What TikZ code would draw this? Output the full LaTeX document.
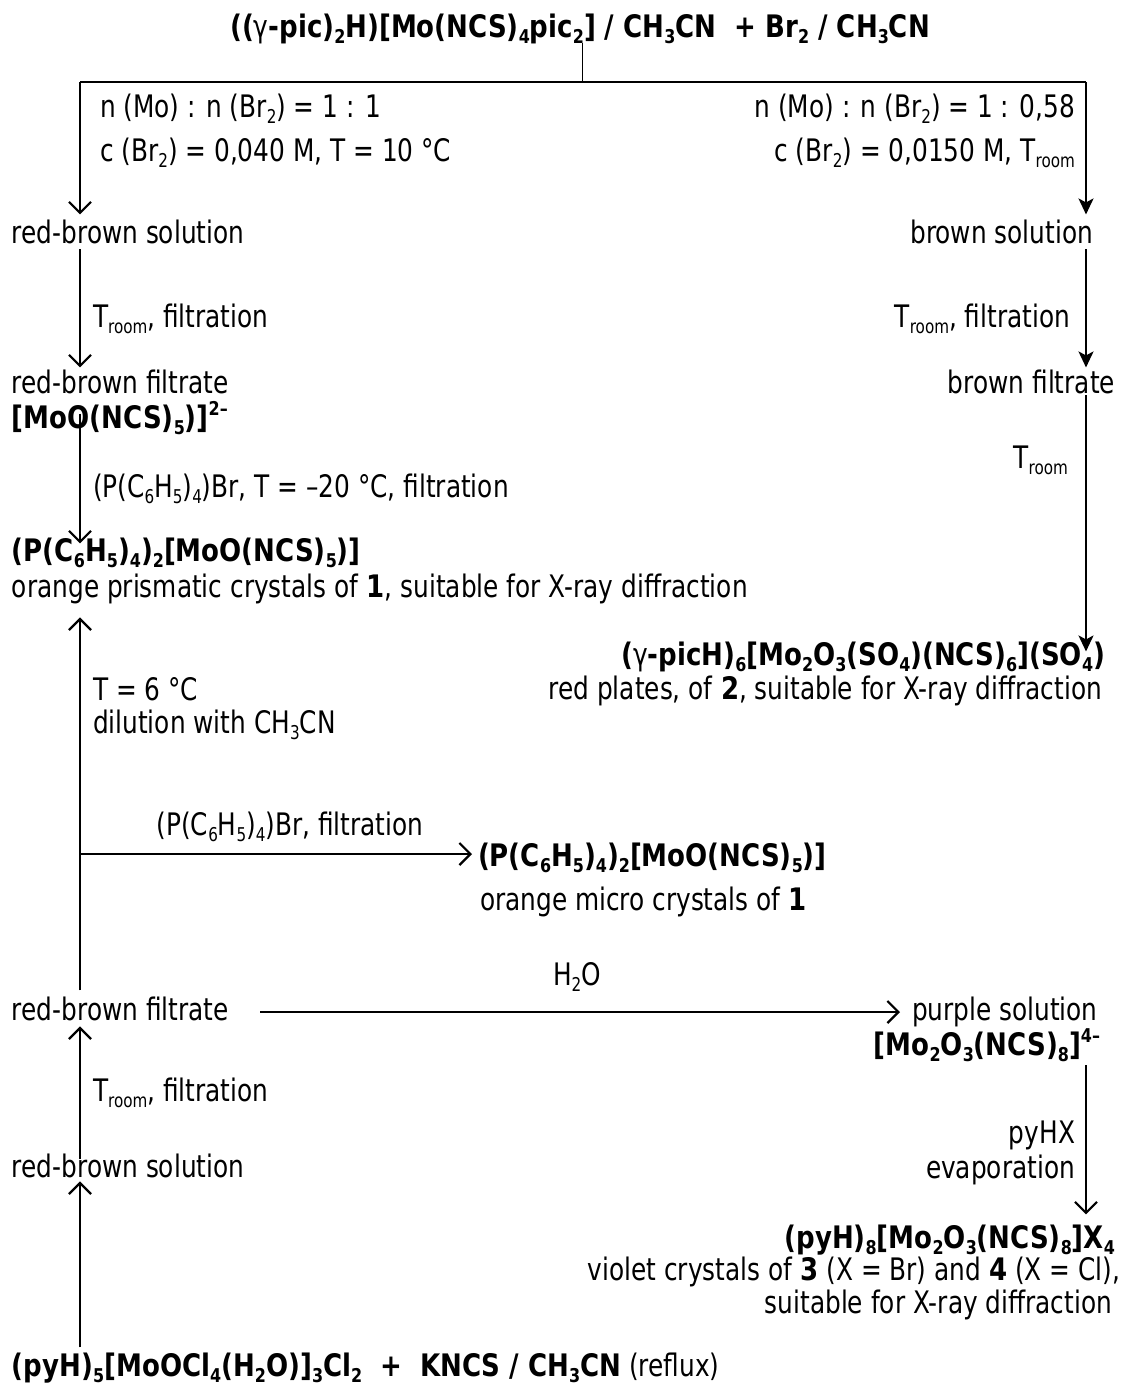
\documentclass[tikz,border=0pt]{standalone}
\usepackage{fontspec}
\setmainfont{DejaVu Sans}[FakeStretch=0.80,BoldFeatures={FakeStretch=0.84}]
\usetikzlibrary{arrows.meta}
\newcommand\sbs[1]{\raisebox{-0.2em}{\fontsize{19}{19}\selectfont #1}}
\newcommand\sps[1]{\raisebox{0.4em}{\fontsize{19}{19}\selectfont #1}}
\tikzset{
  txt/.style={inner sep=0pt, outer sep=0pt, font=\fontsize{31}{36}\selectfont},
  bl/.style={txt, anchor=base west},
  br/.style={txt, anchor=base east},
  bc/.style={txt, anchor=base},
  bld/.style={font=\fontsize{31}{36}\selectfont\bfseries},
  barb/.style={line width=2.2pt, -{Straight Barb[length=11pt,width=22pt,line width=2.2pt]}},
  filled/.style={line width=2.2pt, -{Stealth[length=16pt,width=15pt,inset=4pt]}},
  thin/.style={line width=1pt},
}
\begin{document}
\begin{tikzpicture}[x=1pt,y=-1pt]
\useasboundingbox (0,0) rectangle (1123,1387);
% column coordinates
\coordinate (cl) at (80,0);
\coordinate (cr) at (1086,0);
\coordinate (split) at (582,82);
% title
\node[bc,bld] (title) at (580,37) {(({\mdseries γ}-pic)\sbs{2}H)[Mo(NCS)\sbs{4}pic\sbs{2}] / CH\sbs{3}CN \ + Br\sbs{2} / CH\sbs{3}CN};
% top conditions
\node[bl] (cL1) at (100,117) {n (Mo) : n (Br\sbs{2}) = 1 : 1};
\node[bl] (cL2) at (100,161) {c (Br\sbs{2}) = 0,040 M, T = 10 °C};
\node[br] (cR1) at (1075,117) {n (Mo) : n (Br\sbs{2}) = 1 : 0,58};
\node[br] (cR2) at (1075,161) {c (Br\sbs{2}) = 0,0150 M, T\sbs{room}};
% left branch top
\node[bl] (rbs1) at (12,243) {red-brown solution};
\node[bl] (lab1) at (93,327) {T\sbs{room}, filtration};
\node[bl] (rbf1) at (12,393) {red-brown filtrate};
\node[bl,bld] (mo1) at (12,428) {[MoO(NCS)\sbs{5})]\sps{2–}};
\node[bl] (lab2) at (93,497) {(P(C\sbs{6}H\sbs{5})\sbs{4})Br, T = –20 °C, filtration};
\node[bl,bld] (p1) at (12,561) {(P(C\sbs{6}H\sbs{5})\sbs{4})\sbs{2}[MoO(NCS)\sbs{5})]};
\node[bl] (o1) at (12,597) {orange prismatic crystals of \textbf{1}, suitable for X-ray diffraction};
% right branch top
\node[br] (bs) at (1093,243) {brown solution};
\node[br] (lab3) at (1070,327) {T\sbs{room}, filtration};
\node[br] (bf) at (1115,393) {brown filtrate};
\node[br] (lab4) at (1068,468) {T\sbs{room}};
\node[br,bld] (g) at (1105,665) {({\mdseries γ}-picH)\sbs{6}[Mo\sbs{2}O\sbs{3}(SO\sbs{4})(NCS)\sbs{6}](SO\sbs{4})};
\node[br] (rp) at (1102,699) {red plates, of \textbf{2}, suitable for X-ray diffraction};
% middle left
\node[bl] (lab5) at (93,700) {T = 6 °C};
\node[bl] (lab6) at (93,733) {dilution with CH\sbs{3}CN};
\node[bc] (lab7) at (290,835) {(P(C\sbs{6}H\sbs{5})\sbs{4})Br, filtration};
\node[bl,bld] (p2) at (478,866) {(P(C\sbs{6}H\sbs{5})\sbs{4})\sbs{2}[MoO(NCS)\sbs{5})]};
\node[bl] (o2) at (480,910) {orange micro crystals of \textbf{1}};
\coordinate (br1) at (80,854);
% lower part
\node[bl] (rbf2) at (12,1020) {red-brown filtrate};
\node[bc] (lab8) at (577,985) {H\sbs{2}O};
\node[bl] (ps) at (912,1020) {purple solution};
\node[br,bld] (mo2) at (1100,1055) {[Mo\sbs{2}O\sbs{3}(NCS)\sbs{8}]\sps{4–}};
\node[br] (lab9) at (1075,1143) {pyHX};
\node[br] (lab10) at (1075,1178) {evaporation};
\node[br,bld] (py8) at (1115,1248) {(pyH)\sbs{8}[Mo\sbs{2}O\sbs{3}(NCS)\sbs{8}]X\sbs{4}};
\node[br] (vc) at (1120,1280) {violet crystals of \textbf{3} (X = Br) and \textbf{4} (X = Cl),};
\node[br] (su) at (1112,1313) {suitable for X-ray diffraction};
\node[bl] (lab11) at (93,1101) {T\sbs{room}, filtration};
\node[bl] (rbs2) at (12,1177) {red-brown solution};
\node[bl] (start) at (12,1376) {\textbf{(pyH)\sbs{5}[MoOCl\sbs{4}(H\sbs{2}O)]\sbs{3}Cl\sbs{2} \ + \ KNCS / CH\sbs{3}CN} (reflux)};
\coordinate (hs) at (260,1012);
\coordinate (he) at (900,1012);
% connectors
\draw[thin] (title.south -| split) -- (split);
\draw[line width=1.4pt] (split -| cl) -- (split -| cr);
\draw[barb] (split -| cl) -- ([yshift=5pt]rbs1.north -| cl);
\draw[filled] (split -| cr) -- ([yshift=5pt]bs.north -| cr);
\draw[barb] ([yshift=-6pt]rbs1.south -| cl) -- ([yshift=2pt]rbf1.north -| cl);
\draw[filled] ([yshift=-6pt]bs.south -| cr) -- ([yshift=2pt]bf.north -| cr);
\draw[barb] ([yshift=-12pt]mo1.north -| cl) -- ([yshift=-6pt]p1.north -| cl);
\draw[filled] ([yshift=-2pt]bf.south -| cr) -- ([yshift=-10pt]g.north -| cr);
\draw[barb] ([yshift=6pt]rbf2.north -| cl) -- ([yshift=-14pt]o1.south -| cl);
\draw[barb] (br1) -- ([xshift=-6pt]p2.west |- br1);
\draw[barb] (hs) -- (he);
\draw[barb] ([yshift=-4pt]mo2.south -| cr) -- ([yshift=10pt]py8.north -| cr);
\draw[barb] ([yshift=-6pt]rbs2.north -| cl) -- ([yshift=-6pt]rbf2.south -| cl);
\draw[barb] ([yshift=5pt]start.north -| cl) -- ([yshift=-4pt]rbs2.south -| cl);
\end{tikzpicture}
\end{document}
